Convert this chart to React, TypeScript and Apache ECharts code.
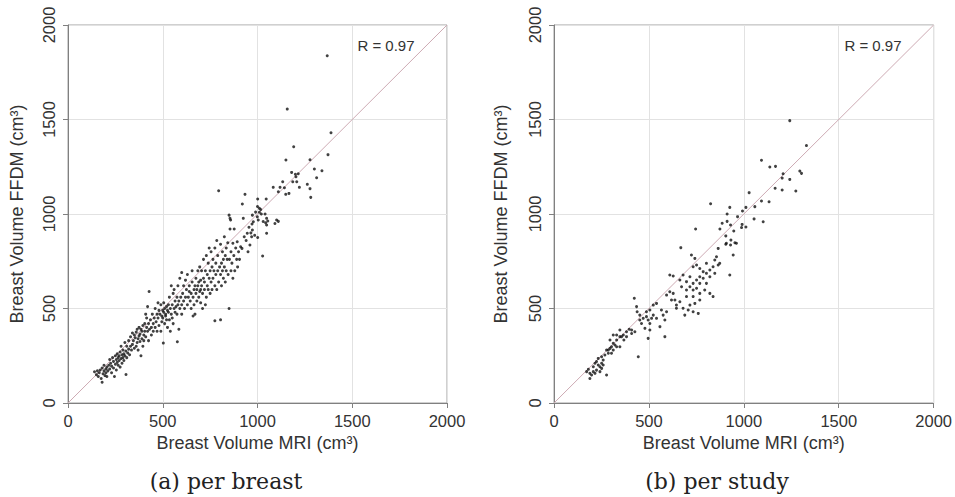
import React, { useEffect, useRef } from "react";
import * as echarts from "echarts";

const AXIS_MIN = 0;
const AXIS_MAX = 2000;
const AXIS_STEP = 500;
const IDENTITY_LINE = [[0, 0], [2000, 2000]];
const R_LABEL = "R = 0.97";
const X_TITLE = "Breast Volume MRI (cm³)";
const Y_TITLE = "Breast Volume FFDM (cm³)";
const CAPTIONS = ["(a) per breast", "(b) per study"];

// (a) per breast: [MRI, FFDM]
const PER_BREAST = [
  [140,165],[150,150],[155,170],[160,140],[165,160],[170,175],[175,130],[180,110],[180,185],[185,155],[190,170],[190,200],[195,145],[200,180],[200,160],[205,190],[210,170],[205,140],
  [215,200],[220,180],[220,230],[225,210],[230,160],[230,195],[235,240],[240,220],[240,185],[245,140],[250,205],[250,250],[255,230],[255,175],[260,215],[260,260],[265,200],[265,240],[270,250],[270,225],[275,190],[275,270],[280,235],[280,300],[285,210],[285,255],[290,240],[290,280],[295,225],[295,260],[306,151],[300,320],[300,250],[305,275],[310,240],
  [310,300],[315,265],[320,285],[320,330],[325,255],[330,300],[330,350],[335,280],[340,310],[340,370],[345,330],[350,290],[350,360],[355,345],[360,300],[360,375],[365,320],[365,390],[370,340],[370,280],[375,355],[375,400],[380,325],[380,365],[385,250],[385,390],[390,340],[390,380],[395,300],[395,410],[400,360],[400,330],
  [405,380],[405,420],[410,350],[410,470],[415,400],[415,450],[420,380],[420,510],[425,330],[425,420],[428,590],[430,390],[435,440],[440,360],[440,400],[445,470],[450,420],[450,380],[455,450],[460,400],[460,500],[465,430],[470,470],[470,380],[475,450],[475,530],[480,490],[480,410],[485,470],[490,380],[490,520],[495,460],[495,430],[500,490],[503,317],[500,450],
  [505,480],[505,530],[510,420],[510,500],[515,460],[515,470],[520,440],[520,510],[525,490],[525,400],[530,480],[530,520],[535,440],[535,560],[540,380],[540,500],[545,470],[545,620],[550,450],[550,520],[555,580],[555,420],[560,500],[560,600],[565,480],[565,540],[577,324],[570,510],[575,470],[575,560],[580,520],[580,620],[585,390],[585,540],[590,500],[590,660],[595,560],[600,470],[600,520],[600,690],
  [605,580],[610,540],[610,620],[615,500],[620,560],[620,650],[625,600],[630,520],[630,680],[635,560],[640,590],[640,620],[645,540],[650,500],[650,580],[655,640],[655,700],[660,560],[660,460],[665,600],[665,520],[670,470],[670,620],[675,580],[675,660],[680,540],[680,600],[685,620],[685,700],[690,560],[690,640],[695,590],[695,720],[700,600],[700,650],[700,530],
  [705,620],[705,700],[710,500],[710,580],[715,660],[715,760],[720,600],[720,640],[725,700],[725,520],[730,560],[730,780],[735,620],[735,680],[740,600],[740,740],[745,660],[745,820],[750,580],[750,700],[755,640],[755,800],[760,720],[760,600],[765,660],[765,760],[770,700],[775,435],[775,620],[775,820],[780,680],[780,740],[785,600],[785,860],[790,700],[790,780],[795,1123],[795,640],[800,720],[805,440],
  [805,680],[805,840],[810,740],[810,620],[815,800],[815,700],[820,760],[820,660],[825,880],[825,720],[830,780],[830,640],[835,700],[835,820],[840,760],[843,848],[845,680],[850,500],[850,994],[852,760],[855,977],[855,921],[858,968],[860,700],[860,800],[865,740],[870,845],[870,660],[875,780],[877,921],[880,700],[885,820],[890,760],[893,853],[895,720],[900,800],
  [905,760],[911,827],[918,818],[920,1053],[925,977],[930,880],[934,1104],[940,860],[946,898],[950,800],[955,930],[960,836],[965,900],[969,880],[971,947],[973,915],[973,994],[978,959],[985,887],[990,1010],[999,985],[1001,876],[1001,1079],[1004,968],[1010,1009],[1017,1024],[1020,1000],[1027,778],[1030,960],[1040,1000],[1043,954],[1046,1079],[1048,977],[1048,942],[1048,898],[1054,963],[1000,1040],[1010,1030],
  [1083,1141],[1092,950],[1101,968],[1110,961],[1110,1118],[1119,1141],[1133,1171],[1142,1139],[1149,1104],[1150,1286],[1157,1555],[1166,1109],[1180,1220],[1186,1171],[1191,1356],[1200,1210],[1203,1197],[1207,1171],[1215,1213],[1221,1141],[1263,1157],[1277,1287],[1277,1134],[1281,1088],[1300,1238],[1312,1192],[1340,1229],[1368,1837],[1372,1314],[1388,1430]
];

// (b) per study: [MRI, FFDM]
const PER_STUDY = [
  [1242,1494],[1330,1362],[1093,1284],[1137,1249],[1167,1252],[1207,1213],[1202,1190],[1242,1183],[1295,1227],[1304,1215],[1274,1122],[1202,1127],[1165,1136],[1028,1113],[1093,1069],[1133,1065],[1058,1039],[1011,1035],[825,1054],[926,1035],[912,1000],[993,1016],[967,986],[886,951],[912,961],[930,942],[991,945],[1011,931],[988,928],[1054,974],[1102,959],[746,921],[874,921],[947,910],[905,884],[932,862],[953,848],[905,840],[930,836],[668,822],[865,818],
  [724,783],[742,765],[751,730],[733,721],[768,712],[786,695],[803,739],[821,704],[838,721],[847,757],[856,774],[865,730],[873,739],[847,686],[821,668],[803,686],[768,668],[751,651],[733,633],[716,668],[698,642],[680,677],[663,651],[610,677],[628,672],[672,615],[698,598],[716,615],[733,598],[768,633],[803,633],[786,660],[751,607],[768,580],[794,598],[821,580],[838,563],[698,563],[733,563],[768,545],[742,527],[716,518],[707,492],[663,536],[637,545],[628,580],[610,589],[593,571],[619,545],[645,518],[680,501],[689,465],[733,483],[760,474],[926,677],[944,783],[908,845],[961,845],
  [423,554],[435,510],[438,483],[452,465],[444,245],[409,386],[396,390],[382,377],[365,360],[347,351],[330,333],[312,316],[303,298],[295,289],[286,280],[347,298],[368,333],[356,351],[382,351],[409,368],[426,377],[452,439],[470,448],[487,457],[496,439],[505,421],[514,448],[523,465],[487,483],[505,492],[523,518],[540,527],[566,492],[575,465],[584,439],[540,448],[558,404],[505,386],[496,342],[584,351],[593,483],[645,501],[461,421],[479,395],
  [172,166],[181,178],[189,157],[198,148],[189,130],[207,192],[216,210],[224,219],[233,201],[242,192],[251,210],[259,227],[268,254],[277,280],[277,148],[242,166],[224,174],[286,263],[303,263],[321,307],[330,298],[312,280],[216,157],[207,166],[259,201],[251,183],[233,236],[251,245],[295,333],[312,360],[330,360],[347,386]
];

const SANS = "Liberation Sans";
const AXIS_COLOR = "#808080";
const TEXT_COLOR = "#333";

function makeX(gridIndex: number) {
  return {
    type: "value", gridIndex, min: AXIS_MIN, max: AXIS_MAX, interval: AXIS_STEP,
    name: X_TITLE, nameLocation: "middle", nameGap: 31,
    nameTextStyle: { fontFamily: SANS, fontSize: 18, color: TEXT_COLOR },
    axisLine: { show: true, lineStyle: { color: AXIS_COLOR, width: 1 } },
    axisTick: { show: true, length: 5, lineStyle: { color: AXIS_COLOR } },
    axisLabel: { fontFamily: SANS, fontSize: 16.5, color: TEXT_COLOR, margin: 9, formatter: (v: number) => String(v) },
    splitLine: { show: true, lineStyle: { color: "#e2e2e2", width: 1 } },
  };
}
function makeY(gridIndex: number, gap: number) {
  return {
    type: "value", gridIndex, min: AXIS_MIN, max: AXIS_MAX, interval: AXIS_STEP,
    name: Y_TITLE, nameLocation: "middle", nameGap: gap,
    nameTextStyle: { fontFamily: SANS, fontSize: 18, color: TEXT_COLOR },
    axisLine: { show: true, lineStyle: { color: AXIS_COLOR, width: 1 } },
    axisTick: { show: true, length: 5, lineStyle: { color: AXIS_COLOR } },
    axisLabel: { fontFamily: SANS, fontSize: 16.5, color: TEXT_COLOR, margin: 11, rotate: 90, formatter: (v: number) => String(v) },
    splitLine: { show: true, lineStyle: { color: "#e2e2e2", width: 1 } },
  };
}

export default function App() {
  const ref = useRef<HTMLDivElement>(null);
  useEffect(() => {
    if (!ref.current) return;
    const chart = echarts.init(ref.current, undefined, { renderer: "svg" });
    const datasets = [PER_BREAST, PER_STUDY];
    const series: any[] = [];
    datasets.forEach((d, i) => {
      series.push({
        type: "line", xAxisIndex: i, yAxisIndex: i, data: IDENTITY_LINE,
        symbol: "none", silent: true, z: 1,
        lineStyle: { color: "#cdaab3", width: 1 },
      });
      series.push({
        type: "scatter", xAxisIndex: i, yAxisIndex: i, data: d,
        symbol: "circle", symbolSize: 3, z: 3,
        itemStyle: { color: "#111" },
      });
    });
    chart.setOption({
      animation: false,
      backgroundColor: "#fff",
      grid: [
        { left: 68, top: 25, width: 379, height: 378, show: true, borderColor: "#a0a0a0", borderWidth: 1 },
        { left: 554, top: 25, width: 380, height: 378, show: true, borderColor: "#a0a0a0", borderWidth: 1 },
      ],
      xAxis: [makeX(0), makeX(1)],
      yAxis: [makeY(0, 42), makeY(1, 44)],
      series,
      graphic: [
        { type: "text", x: 386, y: 45, style: { text: R_LABEL, font: `15px "${SANS}"`, fill: TEXT_COLOR, textAlign: "center", textVerticalAlign: "middle" } },
        { type: "text", x: 873, y: 45, style: { text: R_LABEL, font: `15px "${SANS}"`, fill: TEXT_COLOR, textAlign: "center", textVerticalAlign: "middle" } },
        { type: "text", x: 226, y: 481, style: { text: CAPTIONS[0], font: `22px "DejaVu Serif"`, fill: "#222", textAlign: "center", textVerticalAlign: "middle" } },
        { type: "text", x: 717, y: 481, style: { text: CAPTIONS[1], font: `22px "DejaVu Serif"`, fill: "#222", textAlign: "center", textVerticalAlign: "middle" } },
      ],
    });
    return () => chart.dispose();
  }, []);
  return <div ref={ref} style={{ position: "fixed", left: 0, top: 0, width: 955, height: 497 }} />;
}
